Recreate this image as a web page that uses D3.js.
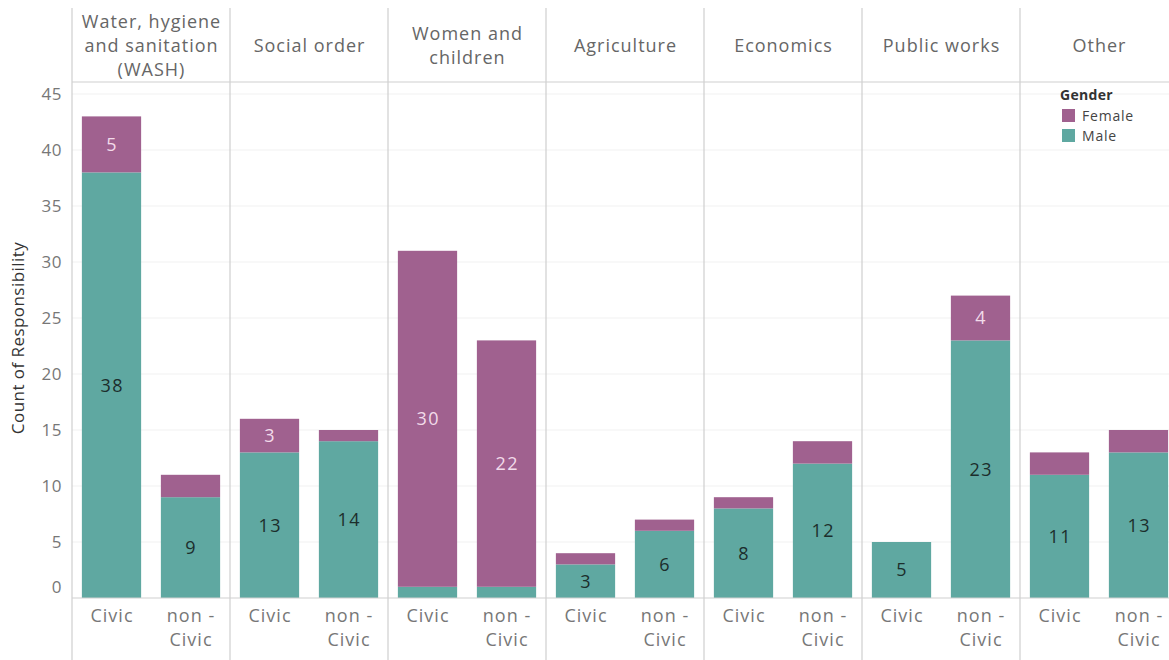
<!DOCTYPE html>
<html><head><meta charset="utf-8">
<script src="https://cdn.jsdelivr.net/npm/d3@7"></script>
<style>body{margin:0;background:#fff}svg{display:block;font-family:"Open Sans",sans-serif}</style>
</head><body>
<svg id="chart" width="1169" height="660"></svg>
<script>
const categories = ["Water, hygiene\nand sanitation\n(WASH)", "Social order", "Women and\nchildren", "Agriculture", "Economics", "Public works", "Other"];
const types = ["Civic", "non -\nCivic"];
const maleCivic = [38, 13, 1, 3, 8, 5, 11];
const femaleCivic = [5, 3, 30, 1, 1, 0, 2];
const maleNonCivic = [9, 14, 1, 6, 12, 23, 13];
const femaleNonCivic = [2, 1, 22, 1, 2, 4, 2];
const yTicks = [0, 5, 10, 15, 20, 25, 30, 35, 40, 45];
const genders = ["Female", "Male"];

const colors = {Male: "#5fa8a1", Female: "#a0618f"};
const labelColors = {Male: "#1c2e2c", Female: "#f2dbea"};

const svg = d3.select("#chart");
const W = 1169, H = 660;
const leftX = 72, topY = 8, headerBottom = 82, baseY = 598;

const panel = d3.scaleBand().domain(categories).range([leftX, leftX + 7 * 158]).padding(0);
const xb = d3.scaleBand().domain(types).range([0, panel.bandwidth()]).paddingInner(0.25).paddingOuter(0.125);
const y = d3.scaleLinear().domain([0, 45]).range([baseY, 94]);

// gridlines
svg.append("g").selectAll("line").data(yTicks.filter(t => t > 0)).join("line")
  .attr("x1", leftX).attr("x2", W).attr("y1", d => y(d)).attr("y2", d => y(d))
  .attr("stroke", "#f1f1f1").attr("stroke-width", 1);

// build records
const records = [];
categories.forEach((c, i) => {
  [[maleCivic, femaleCivic], [maleNonCivic, femaleNonCivic]].forEach((pair, j) => {
    const m = pair[0][i], f = pair[1][i];
    records.push({cat: c, type: types[j], gender: "Male", y0: 0, y1: m, v: m});
    records.push({cat: c, type: types[j], gender: "Female", y0: m, y1: m + f, v: f});
  });
});

const bars = svg.append("g");
bars.selectAll("rect").data(records.filter(d => d.v > 0)).join("rect")
  .attr("x", d => panel(d.cat) + xb(d.type))
  .attr("width", xb.bandwidth())
  .attr("y", d => y(d.y1))
  .attr("height", d => y(d.y0) - y(d.y1))
  .attr("fill", d => colors[d.gender]);

bars.selectAll("text").data(records.filter(d => d.v >= 3)).join("text")
  .attr("x", d => panel(d.cat) + xb(d.type) + xb.bandwidth() / 2 + 0.7)
  .attr("y", d => y((d.y0 + d.y1) / 2))
  .attr("dy", "0.35em")
  .attr("text-anchor", "middle")
  .attr("font-size", 18)
  .attr("letter-spacing", 1.4)
  .attr("fill", d => labelColors[d.gender])
  .text(d => d.v);

// frame lines
const lines = svg.append("g").attr("stroke", "#cfcfcf").attr("stroke-width", 1.2);
categories.forEach(c => {
  lines.append("line").attr("x1", panel(c)).attr("x2", panel(c)).attr("y1", topY).attr("y2", H);
});
lines.append("line").attr("x1", leftX).attr("x2", W).attr("y1", headerBottom).attr("y2", headerBottom);
lines.append("line").attr("x1", leftX).attr("x2", W).attr("y1", baseY).attr("y2", baseY);

// headers
categories.forEach(c => {
  const parts = c.split("\n");
  const cx = panel(c) + panel.bandwidth() / 2 + 0.5;
  const lh = 24;
  const startY = 46 - (parts.length - 1) * lh / 2;
  const t = svg.append("text").attr("text-anchor", "middle").attr("font-size", 18).attr("letter-spacing", 1).attr("fill", "#666");
  parts.forEach((p, k) => t.append("tspan").attr("x", cx).attr("y", startY + k * lh).attr("dy", "0.35em").text(p));
});

// x labels
categories.forEach(c => {
  types.forEach(tp => {
    const parts = tp.split("\n");
    const cx = panel(c) + xb(tp) + xb.bandwidth() / 2 + 0.5;
    const t = svg.append("text").attr("text-anchor", "middle").attr("font-size", 18).attr("letter-spacing", 1).attr("fill", "#777");
    parts.forEach((p, k) => t.append("tspan").attr("x", cx).attr("y", 616 + k * 24).attr("dy", "0.35em").text(p));
  });
});

// y axis
const yAxis = d3.axisLeft(y).tickValues(yTicks).tickSize(0).tickPadding(10);
const ga = svg.append("g").attr("transform", `translate(${leftX},0)`).call(yAxis);
ga.select(".domain").remove();
ga.selectAll("text").attr("font-size", 17).attr("letter-spacing", 0.5).attr("fill", "#777").attr("font-family", "Open Sans, sans-serif")
  .attr("dy", d => d === 0 ? "-0.3em" : "0.32em");

svg.append("text").attr("transform", "translate(24,338) rotate(-90)")
  .attr("text-anchor", "middle").attr("font-size", 17).attr("letter-spacing", 0.45).attr("fill", "#333")
  .text("Count of Responsibility");

// legend
const lg = svg.append("g").attr("transform", "translate(1060,95)");
lg.append("text").attr("x", 0).attr("y", 0).attr("dy", "0.35em").attr("font-size", 14).attr("font-weight", "bold").attr("letter-spacing", 0.3).attr("fill", "#333").text("Gender");
genders.forEach((g, i) => {
  lg.append("rect").attr("x", 2).attr("y", 14 + i * 20).attr("width", 13).attr("height", 13).attr("fill", colors[g]);
  lg.append("text").attr("x", 22).attr("y", 21 + i * 20).attr("dy", "0.35em").attr("font-size", 14).attr("letter-spacing", 0.8).attr("fill", "#444").text(g);
});
</script>
</body></html>
